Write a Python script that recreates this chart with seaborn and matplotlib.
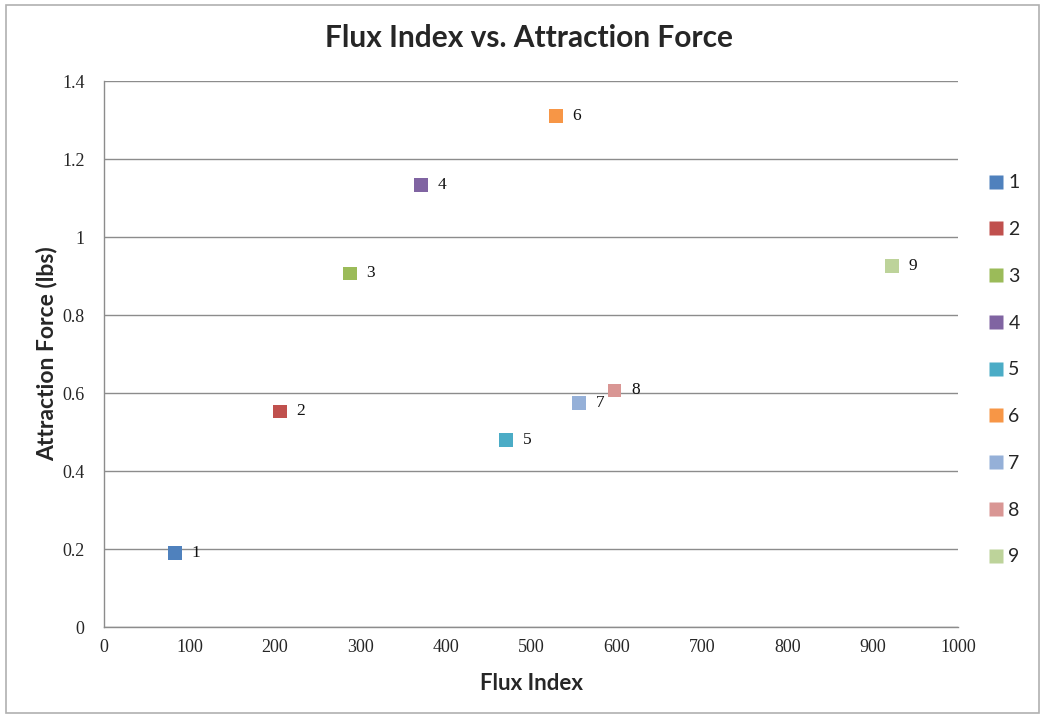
import matplotlib
matplotlib.use("Agg")
import matplotlib.pyplot as plt
import seaborn as sns
import pandas as pd
from matplotlib.patches import Rectangle

# Sample measurements
samples = ["1", "2", "3", "4", "5", "6", "7", "8", "9"]
flux_index = [83, 206, 288, 371, 471, 529, 556, 598, 923]
attraction_force = [0.19, 0.553, 0.907, 1.133, 0.479, 1.31, 0.574, 0.607, 0.925]
sample_colors = ["#4F81BD", "#C0504D", "#9BBB59", "#8064A2", "#4BACC6",
                 "#F79646", "#95B0D8", "#D99694", "#BDD39A"]

x_ticks = [0, 100, 200, 300, 400, 500, 600, 700, 800, 900, 1000]
y_ticks = [0, 0.2, 0.4, 0.6, 0.8, 1, 1.2, 1.4]
y_tick_labels = ["0", "0.2", "0.4", "0.6", "0.8", "1", "1.2", "1.4"]

df = pd.DataFrame({"Sample": samples, "Flux Index": flux_index,
                   "Attraction Force": attraction_force})

sns.set_style("white")
plt.rcParams["font.family"] = ["Lato", "DejaVu Sans"]

fig = plt.figure(figsize=(10.41, 7.17), dpi=100)
ax = fig.add_axes([104 / 1041, 1 - 627 / 717, (958 - 104) / 1041, (627 - 81) / 717])

sns.scatterplot(data=df, x="Flux Index", y="Attraction Force", hue="Sample",
                palette=dict(zip(samples, sample_colors)), marker="s", s=95,
                edgecolor="none", ax=ax, zorder=3)

# Point labels
serif = ["Liberation Serif", "DejaVu Serif"]
for s, xv, yv in zip(samples, flux_index, attraction_force):
    ax.annotate(s, (xv, yv), xytext=(12, 0), textcoords="offset points",
                va="center", ha="left", fontsize=12.5, family=serif, color="#111111")

ax.set_xlim(0, 1000)
ax.set_ylim(0, 1.4)
ax.set_xticks(x_ticks)
ax.set_xticklabels([str(t) for t in x_ticks], family=serif, fontsize=13)
ax.set_yticks(y_ticks)
ax.set_yticklabels(y_tick_labels, family=serif, fontsize=13)
ax.tick_params(axis="x", length=0, pad=9)
ax.tick_params(axis="y", length=0, pad=14)
ax.yaxis.grid(True, color="#8c8c8c", linewidth=1.0)
ax.xaxis.grid(False)
for side in ["top", "right"]:
    ax.spines[side].set_visible(False)
for side in ["left", "bottom"]:
    ax.spines[side].set_color("#8c8c8c")
    ax.spines[side].set_linewidth(1.0)

ax.set_xlabel("Flux Index", fontsize=16, fontweight="bold", labelpad=12)
ax.set_ylabel("Attraction Force (lbs)", fontsize=16.5, fontweight="bold", labelpad=3)
fig.suptitle("Flux Index vs. Attraction Force", x=0.508, y=0.967,
             fontsize=21.5, fontweight="bold")

sns.move_legend(ax, "upper left", bbox_to_anchor=(1.01, 0.861), frameon=False,
                title=None, fontsize=14, labelspacing=1.53, handletextpad=0.05,
                markerscale=1.0, handlelength=1.2)

# Chart area outline
fig.patches.append(Rectangle((6 / 1041, 4 / 717), 1033 / 1041, 708 / 717,
                             transform=fig.transFigure, fill=False,
                             edgecolor="#b0b0b0", linewidth=1.2))

fig.savefig("out.png", dpi=100)
